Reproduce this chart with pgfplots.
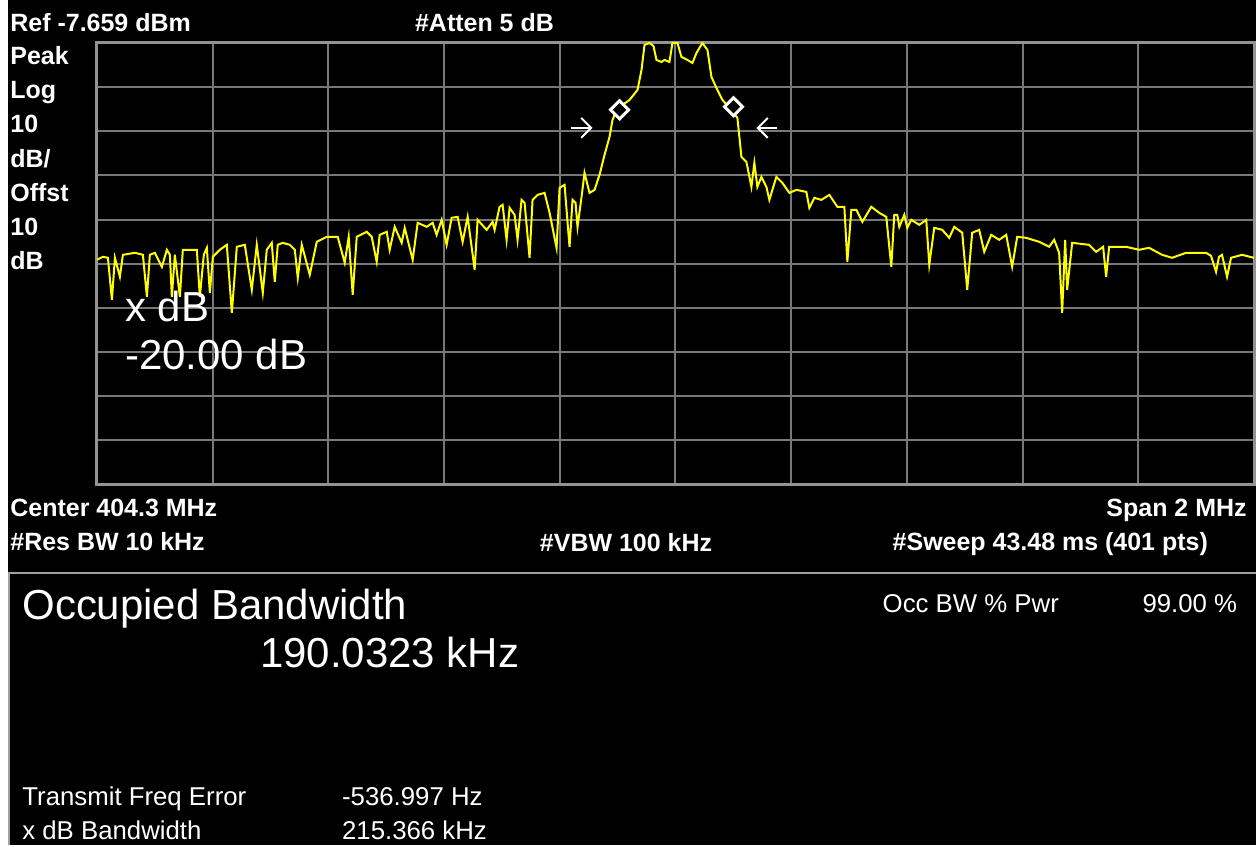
\documentclass[border=0pt]{standalone}
\usepackage{fontspec}
\setmainfont{Liberation Sans}
\usepackage{pgfplots}
\pgfplotsset{compat=1.18}
\usepackage{pgfplotstable}
\usetikzlibrary{arrows.meta}
\definecolor{gridgray}{RGB}{120,120,120}
\definecolor{tracey}{RGB}{255,255,0}
\definecolor{panelgray}{RGB}{160,160,160}
\newcommand{\hdr}{\fontsize{12.5}{15}\selectfont\bfseries}
\newcommand{\bigtxt}{\fontsize{21}{25}\selectfont}
\newcommand{\smtxt}{\fontsize{12.9}{15}\selectfont}

\pgfplotstableread{
x y
-1000 -56.75
-989.6 -56.07
-981.0 -56.30
-974.1 -65.80
-968.9 -56.30
-960.3 -60.60
-955.1 -55.62
-934.4 -55.17
-920.5 -55.62
-913.6 -65.13
-908.5 -55.62
-899.8 -55.17
-887.7 -58.34
-879.1 -54.49
-873.9 -55.62
-870.5 -65.13
-865.3 -55.62
-856.6 -65.13
-851.5 -54.49
-827.3 -54.49
-822.1 -65.13
-815.2 -55.62
-810.0 -54.04
-804.8 -64.22
-799.6 -56.07
-787.6 -54.49
-775.5 -53.36
-766.8 -68.74
-758.2 -53.81
-744.4 -53.36
-732.3 -63.54
-723.7 -53.36
-713.3 -64.22
-706.4 -54.49
-697.8 -52.91
-692.6 -61.73
-687.4 -53.36
-678.8 -52.91
-666.7 -53.36
-658.0 -54.49
-652.8 -60.83
-645.9 -53.36
-632.1 -60.15
-620.0 -52.68
-602.8 -51.55
-583.8 -51.55
-571.7 -57.43
-564.8 -51.55
-557.9 -64.67
-550.9 -51.55
-533.7 -50.42
-525.0 -51.55
-516.4 -57.21
-511.2 -51.10
-499.1 -50.42
-494.0 -54.49
-485.3 -49.29
-473.2 -52.91
-468.0 -49.51
-454.2 -56.75
-445.6 -48.38
-430.0 -49.29
-419.7 -48.38
-412.8 -51.10
-404.1 -47.70
-395.5 -53.36
-386.9 -47.25
-376.5 -47.03
-367.9 -52.68
-359.2 -47.03
-347.1 -59.02
-342.0 -47.70
-326.4 -49.97
-316.1 -48.16
-312.6 -49.97
-304.0 -44.76
-298.8 -44.31
-291.9 -52.23
-286.7 -44.99
-278.1 -46.57
-272.9 -52.23
-266.0 -43.18
-260.8 -43.86
-252.2 -56.30
-247.0 -43.18
-238.3 -42.05
-226.2 -41.60
-217.6 -46.12
-205.5 -54.04
-200.3 -40.46
-191.7 -39.79
-183.1 -53.81
-177.9 -43.18
-172.7 -43.86
-169.3 -49.29
-162.3 -42.50
-157.2 -37.07
-148.5 -41.60
-139.9 -40.92
-131.3 -37.52
-122.6 -33.00
-114.0 -28.93
-108.8 -25.08
-101.9 -22.82
-91.5 -21.69
-79.4 -20.56
-65.6 -18.29
-58.7 -13.77
-53.5 -8.11
-44.9 -7.66
-38.0 -8.34
-32.8 -11.50
-24.2 -11.96
-19.0 -11.50
-10.4 -11.96
-5.2 -7.66
3.5 -7.66
10.4 -10.83
20.7 -11.50
29.4 -12.18
36.3 -9.92
46.6 -7.66
55.3 -9.24
62.2 -15.35
70.8 -17.84
81.2 -20.56
93.3 -22.36
107.1 -24.63
114.0 -33.45
122.6 -34.58
131.3 -40.24
136.4 -34.81
141.6 -40.24
148.5 -37.98
157.2 -40.24
162.3 -43.18
174.4 -37.98
184.8 -39.33
196.9 -41.60
209.0 -40.92
226.2 -41.37
231.4 -44.99
240.1 -42.73
252.2 -43.18
266.0 -42.05
279.8 -44.76
286.7 -44.76
291.9 -44.76
297.1 -57.21
304.0 -45.44
312.6 -45.44
323.0 -48.16
338.5 -44.76
352.3 -46.12
364.4 -47.03
373.1 -58.34
378.2 -46.57
383.4 -46.57
386.9 -49.29
395.5 -46.57
400.7 -49.51
407.6 -47.70
421.4 -48.83
433.5 -47.70
438.7 -57.88
447.3 -49.51
461.1 -49.97
473.2 -51.78
481.9 -49.29
495.7 -50.64
504.3 -63.54
512.9 -50.64
525.0 -49.97
533.7 -54.94
545.8 -51.10
559.6 -52.23
571.7 -51.10
582.0 -58.34
590.7 -51.55
606.2 -51.78
628.7 -52.68
645.9 -53.81
654.6 -52.23
663.2 -55.17
668.4 -68.74
673.6 -52.23
677.0 -63.54
685.7 -52.91
715.0 -53.36
727.1 -54.94
739.2 -53.81
744.4 -60.60
749.6 -53.81
778.9 -53.81
801.4 -54.49
818.6 -54.04
841.1 -55.62
858.4 -56.30
882.5 -55.17
917.1 -55.17
925.7 -55.85
934.4 -59.47
939.5 -56.07
944.7 -55.62
953.4 -60.60
960.3 -56.30
979.3 -55.62
1000 -56.30
}\tracedata

\begin{document}
\begin{tikzpicture}[x=0.5pt,y=-0.5pt]
\fill[white] (0,0) rectangle (1257,846);
\fill[black] (8,0) rectangle (1257,846);
\draw[panelgray, line width=1pt] (9,846) -- (9,573.5) -- (1257,573.5);
\begin{axis}[
  at={(48.5pt,-242.5pt)}, anchor=south west, scale only axis,
  width=579pt, height=221pt,
  xmin=-1000, xmax=1000, ymin=-107.659, ymax=-7.659,
  xtick={-800,-600,...,800},
  ytick={-97.659,-87.659,-77.659,-67.659,-57.659,-47.659,-37.659,-27.659,-17.659},
  xticklabel=\empty, yticklabel=\empty, major tick length=0pt,
  grid=major,
  major grid style={gridgray, line width=1pt},
  axis line style={gridgray!80!white, line width=1.5pt},
]
\addplot[tracey, line width=1pt] table {\tracedata};
\addplot[only marks, mark=square*, mark size=3.2pt,
  mark options={draw=white, fill=black, line width=1.5pt, rotate=45}]
  coordinates {(-96.7,-22.8) (100.2,-22.1)};
\addplot[white, line width=1pt, -{Straight Barb[length=5pt, width=10pt]}]
  coordinates {(-181,-26.89) (-143.3,-26.89)};
\addplot[white, line width=1pt, -{Straight Barb[length=5pt, width=10pt]}]
  coordinates {(176,-26.89) (139.9,-26.89)};
\end{axis}
\begin{scope}[every node/.style={text=white, anchor=base west, inner sep=0pt}]
\node at (10,32) {\hdr Ref -7.659 dBm};
\node at (415,32) {\hdr \#Atten 5 dB};
\node at (10,65) {\hdr Peak};
\node at (10,99) {\hdr Log};
\node at (10,133) {\hdr 10};
\node at (10,168) {\hdr dB/};
\node at (10,202) {\hdr Offst};
\node at (10,236) {\hdr 10};
\node at (10,270) {\hdr dB};
\node at (125,322) {\bigtxt x dB};
\node at (125,370) {\bigtxt -20.00 dB};
\node at (10,517) {\hdr Center 404.3 MHz};
\node[anchor=base east] at (1248,517) {\hdr Span 2 MHz};
\node at (10,551) {\hdr \#Res BW 10 kHz};
\node at (540,552) {\hdr \#VBW 100 kHz};
\node at (893,551) {\hdr \#Sweep 43.48 ms (401 pts)};
\node at (22,620) {\bigtxt Occupied Bandwidth};
\node at (260,668) {\bigtxt 190.0323 kHz};
\node at (883,613) {\smtxt Occ BW \% Pwr};
\node at (1143,613) {\smtxt 99.00 \%};
\node at (22,806) {\smtxt Transmit Freq Error};
\node at (342,806) {\smtxt -536.997 Hz};
\node at (22,840) {\smtxt x dB Bandwidth};
\node at (342,840) {\smtxt 215.366 kHz};
\end{scope}
\end{tikzpicture}
\end{document}
